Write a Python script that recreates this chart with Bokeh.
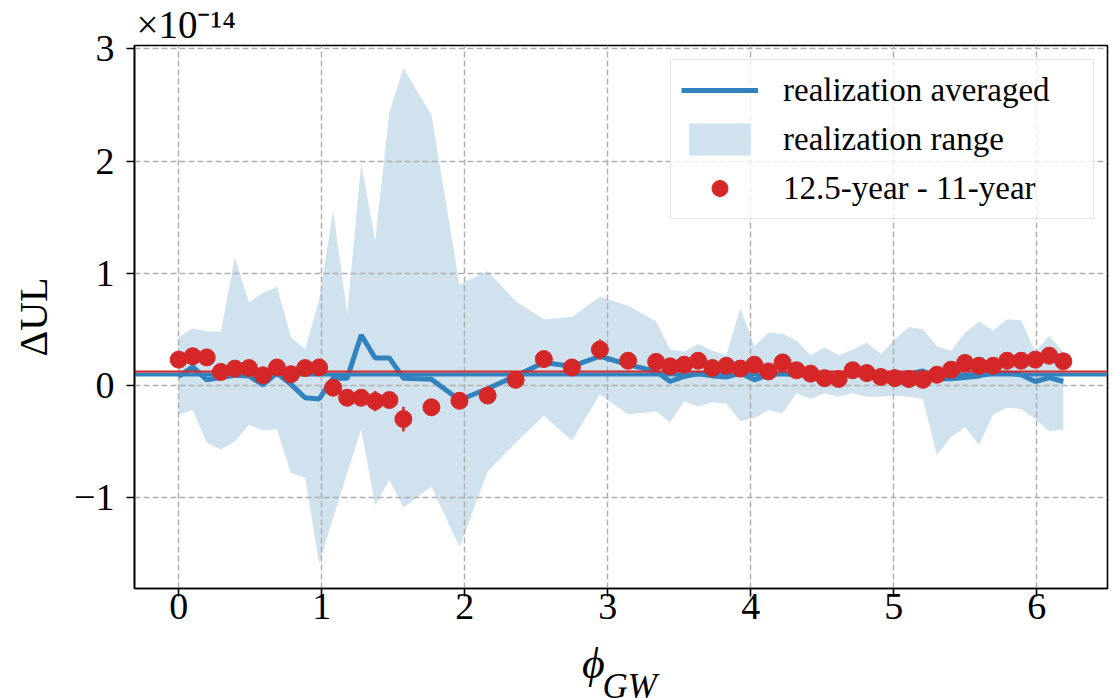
import math
from bokeh.plotting import figure
from bokeh.models import (Range1d, FixedTicker, Legend, LegendItem,
                          ColumnDataSource, Title)
from bokeh.embed import file_html
from bokeh.resources import INLINE

# ---- data (ΔUL values in units of 1e-14) ----
phi = [0.000, 0.098, 0.196, 0.295, 0.393, 0.491, 0.589, 0.687, 0.785, 0.884,
       0.982, 1.080, 1.178, 1.276, 1.374, 1.473, 1.571, 1.767, 1.963, 2.160,
       2.356, 2.553, 2.749, 2.945, 3.142, 3.338, 3.436, 3.534, 3.632, 3.731,
       3.829, 3.927, 4.025, 4.123, 4.222, 4.320, 4.418, 4.516, 4.614, 4.712,
       4.811, 4.909, 5.007, 5.105, 5.203, 5.301, 5.400, 5.498, 5.596, 5.694,
       5.792, 5.890, 5.989, 6.087, 6.185]
delta_ul = [0.23, 0.26, 0.25, 0.12, 0.15, 0.155, 0.09, 0.16, 0.10, 0.155,
            0.16, -0.02, -0.11, -0.11, -0.14, -0.13, -0.30, -0.195, -0.137, -0.09,
            0.05, 0.235, 0.16, 0.32, 0.22, 0.21, 0.17, 0.185, 0.22, 0.155,
            0.175, 0.15, 0.185, 0.125, 0.205, 0.135, 0.105, 0.065, 0.057, 0.135,
            0.11, 0.075, 0.065, 0.057, 0.05, 0.095, 0.14, 0.20, 0.175, 0.175,
            0.22, 0.22, 0.23, 0.265, 0.215]
delta_err = [0.05, 0.05, 0.05, 0.05, 0.05, 0.05, 0.05, 0.05, 0.05, 0.05,
             0.05, 0.05, 0.05, 0.06, 0.09, 0.06, 0.11, 0.05, 0.05, 0.05,
             0.05, 0.05, 0.05, 0.09, 0.05, 0.05, 0.05, 0.05, 0.05, 0.05,
             0.05, 0.05, 0.05, 0.05, 0.05, 0.05, 0.05, 0.05, 0.05, 0.05,
             0.05, 0.05, 0.05, 0.05, 0.05, 0.05, 0.05, 0.05, 0.05, 0.05,
             0.05, 0.05, 0.05, 0.05, 0.05]
avg_ul = [0.08, 0.165, 0.05, 0.07, 0.09, 0.085, 0.005, 0.11, 0.01, -0.11,
          -0.12, 0.065, 0.065, 0.45, 0.245, 0.245, 0.065, 0.055, -0.13, -0.03,
          0.085, 0.205, 0.17, 0.26, 0.185, 0.125, 0.035, 0.08, 0.105, 0.085,
          0.075, 0.11, 0.05, 0.095, 0.11, 0.09, 0.09, 0.10, 0.09, 0.10,
          0.09, 0.10, 0.09, 0.10, 0.13, 0.06, 0.06, 0.07, 0.085, 0.11,
          0.11, 0.095, 0.035, 0.07, 0.035]
range_hi = [0.43, 0.51, 0.48, 0.48, 1.14, 0.74, 0.825, 0.88, 0.43, 0.32,
            0.765, 1.56, 0.64, 1.98, 1.29, 2.43, 2.83, 2.41, 0.90, 1.02,
            0.75, 0.59, 0.61, 0.79, 0.71, 0.57, 0.32, 0.30, 0.37, 0.31,
            0.27, 0.69, 0.35, 0.47, 0.46, 0.40, 0.27, 0.34, 0.27, 0.32,
            0.38, 0.28, 0.41, 0.52, 0.50, 0.35, 0.31, 0.47, 0.57, 0.49,
            0.59, 0.58, 0.30, 0.44, 0.30]
range_lo = [-0.26, -0.22, -0.51, -0.57, -0.50, -0.35, -0.40, -0.39, -0.78, -0.82,
            -1.59, -1.18, -0.78, -0.39, -1.07, -0.84, -1.09, -0.90, -1.44, -0.77,
            -0.51, -0.27, -0.49, -0.08, -0.26, -0.23, -0.33, -0.14, -0.19, -0.15,
            -0.16, -0.32, -0.29, -0.22, -0.25, -0.07, -0.12, -0.07, -0.10, -0.07,
            -0.10, -0.10, -0.09, -0.10, -0.12, -0.62, -0.46, -0.37, -0.53, -0.26,
            -0.20, -0.21, -0.30, -0.41, -0.39]
avg_mean = [0.10]
delta_mean = [0.12]
x_ticks = [0, 1, 2, 3, 4, 5, 6]
y_ticks = [-1, 0, 1, 2, 3]
y_tick_labels = {-1: "\u22121", 0: "0", 1: "1", 2: "2", 3: "3"}

src = ColumnDataSource(dict(
    phi=phi, d=delta_ul, avg=avg_ul, hi=range_hi, lo=range_lo,
    elo=[v - e for v, e in zip(delta_ul, delta_err)],
    ehi=[v + e for v, e in zip(delta_ul, delta_err)],
))

FONT = "Liberation Serif"
BLUE = "#3182bd"
RED = "#d62728"
BAND = "#d1e2ef"
NB = "\u00a0"

p = figure(width=1115, height=698,
           x_range=Range1d(-0.309, 6.494), y_range=Range1d(-1.81, 3.03),
           output_backend="svg", toolbar_location=None,
           min_border_left=134, min_border_right=8,
           min_border_top=45, min_border_bottom=110)
p.background_fill_color = "white"
p.border_fill_color = "white"
p.outline_line_color = "black"
p.outline_line_width = 1.6

band_r = p.varea(x="phi", y1="lo", y2="hi", source=src, fill_color=BAND,
                 level="image")
p.hspan(y=avg_mean, line_color=BLUE, line_width=4)
line_r = p.line(x="phi", y="avg", source=src, line_color=BLUE, line_width=5)
p.hspan(y=delta_mean, line_color=RED, line_width=2)
p.segment(x0="phi", y0="elo", x1="phi", y1="ehi", source=src,
          line_color=RED, line_width=2.5)
dot_r = p.scatter(x="phi", y="d", source=src, size=17, fill_color=RED,
                  line_color=RED)

for ax in (p.xaxis, p.yaxis):
    ax.axis_line_color = "black"
    ax.axis_line_width = 1.6
    ax.major_tick_line_color = "black"
    ax.major_tick_line_width = 1.6
    ax.major_tick_in = 0
    ax.major_tick_out = 8
    ax.minor_tick_line_color = None
    ax.major_label_text_font = FONT
    ax.major_label_text_font_size = "38px"
    ax.major_label_text_color = "black"
    ax.axis_label_text_font = FONT
    ax.axis_label_text_color = "black"
p.xaxis.ticker = FixedTicker(ticks=x_ticks)
p.yaxis.ticker = FixedTicker(ticks=y_ticks)
p.yaxis.major_label_overrides = y_tick_labels
p.xaxis.major_label_standoff = -3
p.yaxis.major_label_standoff = 12

# y label
p.yaxis.axis_label = "\u0394UL"
p.yaxis.axis_label_text_font_size = "40px"
p.yaxis.axis_label_text_font_style = "normal"
p.yaxis.axis_label_standoff = 15

# x label: phi as axis label, subscript GW as a title just below/right
p.xaxis.axis_label = "\u03d5" + NB * 5
p.xaxis.axis_label_text_font_size = "44px"
p.xaxis.axis_label_text_font_style = "italic"
p.xaxis.axis_label_standoff = 17

gw_title = Title(text=NB * 2 + "GW", align="center", vertical_align="top",
                 text_font=FONT, text_font_size="35px",
                 text_font_style="italic", text_color="black", standoff=-48)
p.add_layout(gw_title, "below")

# offset multiplier above the plot
p.title.text = "\u00d710\u207b\u00b9\u2074"
p.title.align = "left"
p.title.offset = 2
p.title.text_font = FONT
p.title.text_font_size = "39px"
p.title.text_font_style = "normal"
p.title.text_color = "black"
p.title.standoff = 0

for g in (p.xgrid, p.ygrid):
    g.grid_line_color = "#b0b0b0"
    g.grid_line_width = 1.5
    g.grid_line_dash = "6 3"
p.xgrid.ticker = FixedTicker(ticks=x_ticks)
p.ygrid.ticker = FixedTicker(ticks=y_ticks)

legend = Legend(items=[
    LegendItem(label="realization averaged", renderers=[line_r]),
    LegendItem(label="realization range", renderers=[band_r]),
    LegendItem(label="12.5-year - 11-year", renderers=[dot_r]),
], location=(536, 369))
legend.label_text_font = FONT
legend.label_text_font_size = "33px"
legend.label_text_color = "black"
legend.glyph_width = 77
legend.glyph_height = 40
legend.label_height = 40
legend.label_width = 300
legend.label_standoff = 25
legend.padding = 10
legend.spacing = 9
legend.margin = 0
legend.border_line_color = "#cccccc"
legend.border_line_width = 1.5
legend.background_fill_color = "white"
legend.background_fill_alpha = 0.8
p.add_layout(legend)

open("out.html", "w").write(file_html(p, INLINE))
